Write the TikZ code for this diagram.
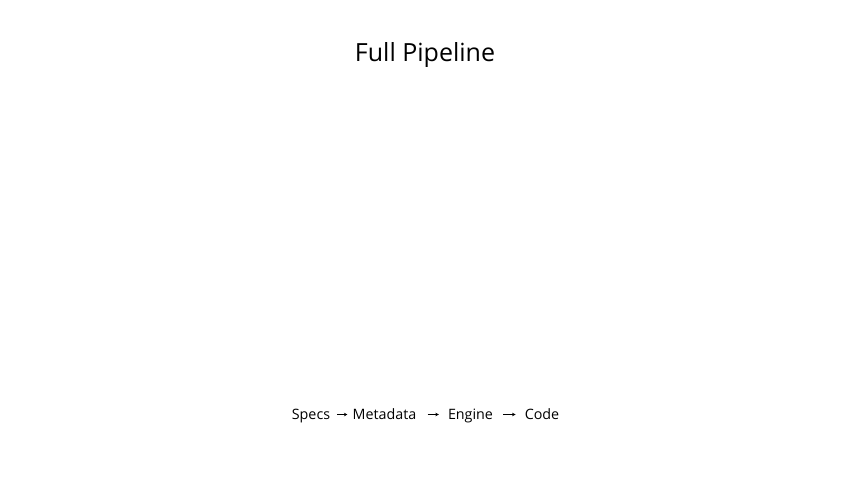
\documentclass[tikz,border=0pt]{standalone}
\usepackage{fontspec}
\setmainfont{Open Sans}
\usepackage{tikz}
\usetikzlibrary{arrows.meta}
\tikzset{
  stage/.style={inner sep=0pt, anchor=base, font=\fontsize{14.3}{17}\selectfont},
  pipe/.style={-{Stealth[length=3.5pt,width=3.5pt]}, line width=0.6pt}
}
\begin{document}
\begin{tikzpicture}[x=1pt,y=1pt]
  % Page frame
  \useasboundingbox (0,0) rectangle (853,480);

  % Title
  \node[font=\fontsize{25}{30}\selectfont, anchor=base] (title) at (425,418) {Full Pipeline};

  % Pipeline stages
  \node[stage] (specs) at (311,61) {Specs};
  \node[stage] (meta) at (384.5,61) {Metadata};
  \node[stage] (engine) at (470.5,61) {Engine};
  \node[stage] (code) at (542,61) {Code};

  % Arrows between the stages
  \draw[pipe, shorten <=7pt, shorten >=5pt] ([yshift=4.5pt]specs.base east) -- ([yshift=4.5pt]meta.base west);
  \draw[pipe, shorten <=11pt, shorten >=9pt] ([yshift=4.5pt]meta.base east) -- ([yshift=4.5pt]engine.base west);
  \draw[pipe, shorten <=10pt, shorten >=9pt] ([yshift=4.5pt]engine.base east) -- ([yshift=4.5pt]code.base west);
\end{tikzpicture}
\end{document}
